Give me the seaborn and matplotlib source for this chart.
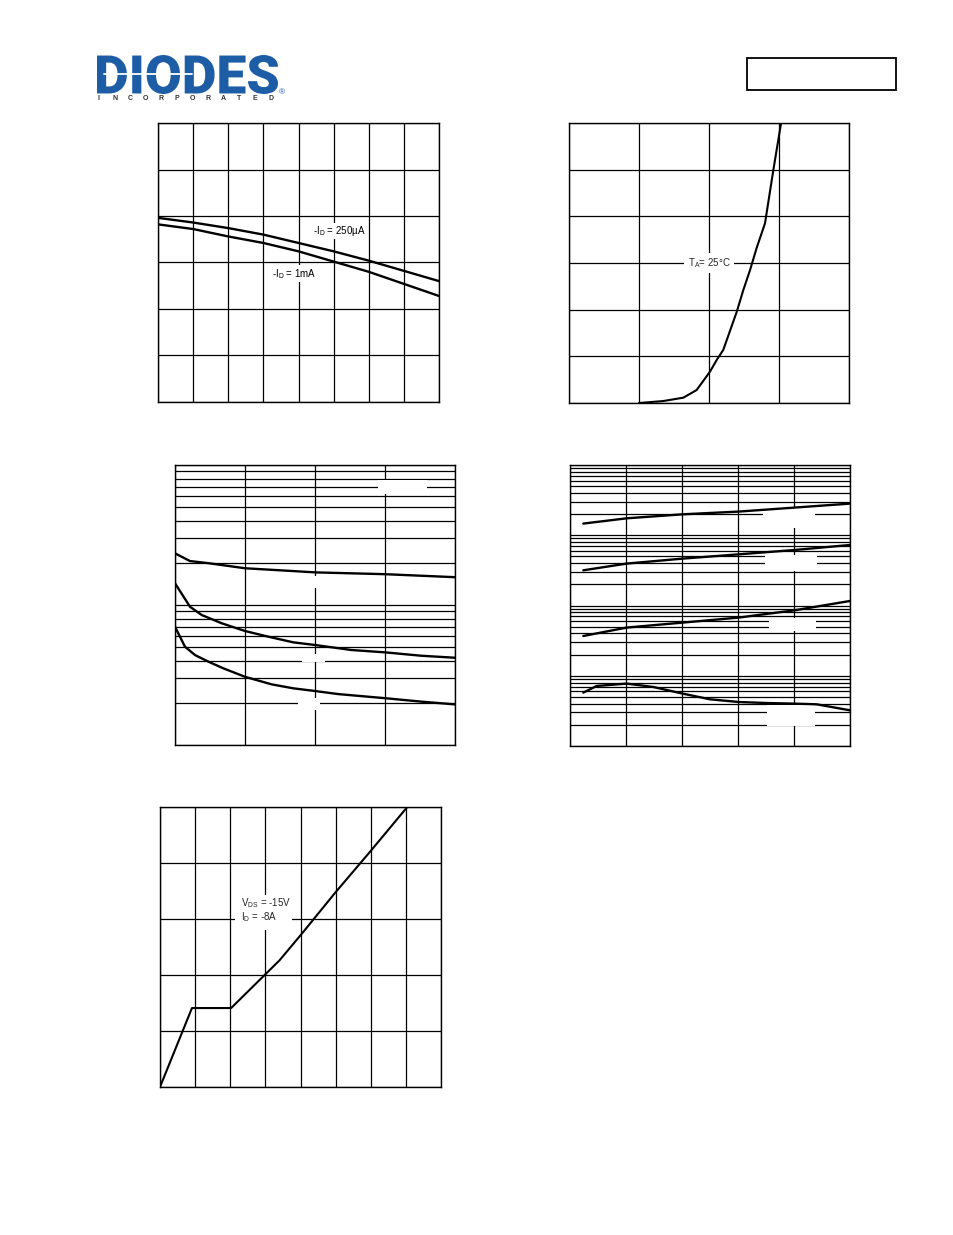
import numpy as np
import pandas as pd
import matplotlib
matplotlib.use("Agg")
import matplotlib.pyplot as plt
import seaborn as sns
from matplotlib.patches import Rectangle, PathPatch
from matplotlib.textpath import TextPath
from matplotlib.font_manager import FontProperties
from matplotlib.transforms import Affine2D

# ---------------- data ----------------
# Chart 1: threshold voltage vs temperature
temp_c = [-50, -25, 0, 25, 50, 75, 100, 125, 150]
vth_250ua = [1.98, 1.93, 1.87, 1.80, 1.71, 1.62, 1.52, 1.41, 1.30]
vth_1ma = [1.91, 1.86, 1.78, 1.71, 1.62, 1.51, 1.40, 1.27, 1.14]

# Chart 2: reverse drain current vs source-drain voltage
vsd = [0.30, 0.404, 0.490, 0.547, 0.604, 0.633, 0.661, 0.719, 0.747, 0.776,
       0.804, 0.840, 0.876, 0.909]
isd = [0.0, 0.21, 0.57, 1.39, 3.35, 4.61, 5.68, 9.78, 12.1, 14.25,
       16.6, 19.25, 25.0, 30.0]

# Chart 3: capacitance vs drain-source voltage (log)
vds_ciss = [0, 1.07, 2.38, 5, 8.33, 10, 15, 20]
ciss = [2340, 2060, 1990, 1830, 1750, 1710, 1660, 1580]
vds_coss = [0, 1.07, 1.91, 3.34, 5, 6.66, 8.45, 10, 12.6, 15, 17.6, 20]
coss = [1430, 972, 848, 740, 652, 594, 541, 518, 477, 459, 434, 420]
vds_crss = [0, 0.71, 1.43, 2.38, 3.45, 5, 6.91, 8.45, 10, 11.66, 15, 17.6, 20]
crss = [700, 504, 439, 394, 353, 307, 271, 254, 243, 231, 216, 204, 195]

# Chart 4: four log curves
x4 = [1.19, 5.06, 10.06, 15.06, 20.06, 25]
curve_a = [1466, 1742, 1987, 2172, 2477, 2820]
curve_b = [317, 395, 465, 535, 617, 727]
curve_c = [36.8, 48.5, 57.1, 67.3, 85.5, 116]
x4d = [1.19, 2.38, 5.06, 7.44, 10.06, 12.5, 15.06, 17.56, 20.06, 22.03, 25]
curve_d = [5.75, 7.15, 7.73, 6.92, 5.57, 4.62, 4.23, 4.09, 4.01, 3.92, 3.22]

# Chart 5: gate charge
qg = [0, 1.82, 4.05, 6.80, 8.03, 9.99, 11.97, 14.08]
vgs = [0, 2.82, 2.82, 4.52, 5.44, 6.95, 8.41, 10.0]

# ---------------- figure ----------------
sns.set_style("white")
plt.rcParams['font.family'] = ['Liberation Sans', 'DejaVu Sans']

W, H = 954, 1235
fig = plt.figure(figsize=(W / 100, H / 100), dpi=100)
fig.patch.set_facecolor('white')


def add_ax(box):
    x0, y0, x1, y1 = box
    return fig.add_axes([x0 / W, 1 - y1 / H, (x1 - x0) / W, (y1 - y0) / H])


def style(ax):
    ax.tick_params(which='both', length=0, labelbottom=False, labelleft=False)
    for s in ax.spines.values():
        s.set_visible(True)
        s.set_color('black')
        s.set_linewidth(1.0)
    ax.set_axisbelow(True)
    ax.grid(True, which='both', color='black', lw=0.9)
    ax.set_xlabel('')
    ax.set_ylabel('')


def gap(ax, box, cx, cy, w, h):
    x0, y0, x1, y1 = box
    fx = (cx - w / 2 - x0) / (x1 - x0)
    fy = (y1 - (cy + h / 2)) / (y1 - y0)
    ax.add_patch(Rectangle((fx, fy), w / (x1 - x0), h / (y1 - y0),
                           transform=ax.transAxes, facecolor='white',
                           edgecolor='none', zorder=1.5))


LW = 1.7
lab = dict(fontsize=7, color='black', zorder=3,
           bbox=dict(facecolor='white', edgecolor='none', pad=1.0))

# ---- Chart 1 ----
b1 = (158, 123, 439, 402)
ax1 = add_ax(b1)
sns.lineplot(x=temp_c, y=vth_250ua, ax=ax1, color='black', lw=LW)
sns.lineplot(x=temp_c, y=vth_1ma, ax=ax1, color='black', lw=LW)
ax1.set_xlim(-50, 150)
ax1.set_ylim(0, 3)
ax1.set_xticks(np.arange(-50, 151, 25))
ax1.set_yticks(np.arange(0, 3.01, 0.5))
style(ax1)
ax1.text(60, 1.84, "-I$_\\mathregular{D}$ = 250µA", ha='left', va='center', **lab)
ax1.text(31, 1.38, "-I$_\\mathregular{D}$ = 1mA", ha='left', va='center', **lab)

# ---- Chart 2 ----
b2 = (569, 123, 849, 403)
ax2 = add_ax(b2)
sns.lineplot(x=vsd, y=isd, ax=ax2, color='black', lw=1.5, sort=False)
ax2.set_xlim(0, 1.2)
ax2.set_ylim(0, 30)
ax2.set_xticks(np.arange(0, 1.21, 0.3))
ax2.set_yticks(np.arange(0, 30.1, 5))
style(ax2)
ax2.text(0.6, 15.0, "T$_\\mathregular{A}$= 25°C", ha='center', va='center',
         fontsize=7, zorder=3,
         bbox=dict(facecolor='white', edgecolor='none', pad=2.5))

# ---- Chart 3 ----
b3 = (175, 465, 455, 745)
ax3 = add_ax(b3)
sns.lineplot(x=vds_ciss, y=ciss, ax=ax3, color='black', lw=LW)
sns.lineplot(x=vds_coss, y=coss, ax=ax3, color='black', lw=LW)
sns.lineplot(x=vds_crss, y=crss, ax=ax3, color='black', lw=LW)
ax3.set_yscale('log')
ax3.set_xlim(0, 20)
ax3.set_ylim(100, 10000)
ax3.set_xticks(np.arange(0, 20.1, 5))
style(ax3)
gap(ax3, b3, 402, 487, 49, 14)
gap(ax3, b3, 315, 582, 26, 12)
gap(ax3, b3, 313, 658, 23, 8)
gap(ax3, b3, 309, 704, 22, 12)

# ---- Chart 4 ----
b4 = (570, 465, 850, 746)
ax4 = add_ax(b4)
for yv in (curve_a, curve_b, curve_c):
    sns.lineplot(x=x4, y=yv, ax=ax4, color='black', lw=LW)
sns.lineplot(x=x4d, y=curve_d, ax=ax4, color='black', lw=LW)
ax4.set_yscale('log')
ax4.set_xlim(0, 25)
ax4.set_ylim(1, 10000)
ax4.set_xticks(np.arange(0, 25.1, 5))
style(ax4)
gap(ax4, b4, 789, 518, 52, 20)
gap(ax4, b4, 791, 563, 52, 16)
gap(ax4, b4, 793, 624, 47, 13)
gap(ax4, b4, 791, 715, 48, 21)

# ---- Chart 5 ----
b5 = (160, 807, 441, 1087)
ax5 = add_ax(b5)
sns.lineplot(x=qg, y=vgs, ax=ax5, color='black', lw=1.5, sort=False)
ax5.set_xlim(0, 16)
ax5.set_ylim(0, 10)
ax5.set_xticks(np.arange(0, 16.1, 2))
ax5.set_yticks(np.arange(0, 10.1, 2))
style(ax5)
gap(ax5, b5, 263.5, 912.5, 57, 35)
ax5.text(4.61, 6.32, "V$_\\mathregular{DS}$ = -15V\nI$_\\mathregular{D}$ = -8A",
         ha='left', va='center', fontsize=7, linespacing=1.0, zorder=3)

# ---- Header: logo ----
logo_blue = '#1c5da6'
tp = TextPath((0, 0), "DIODES", prop=FontProperties(family='Roboto', weight='black'))
ext = tp.get_extents()
lx0, ly0, lx1, ly1 = 97, 55, 278, 94
sx = (lx1 - lx0) / ext.width
sy = (ly1 - ly0) / ext.height
tr = (Affine2D().translate(-ext.x0, -ext.y0).scale(sx, sy)
      .translate(lx0, H - ly1).scale(1 / W, 1 / H) + fig.transFigure)
fig.patches.append(PathPatch(tp, transform=tr, facecolor=logo_blue,
                             edgecolor='none', figure=fig))
fig.lines.append(plt.Line2D([104 / W, 192 / W], [1 - 74 / H, 1 - 74 / H],
                            transform=fig.transFigure, color='white', lw=1.3,
                            figure=fig))
letters = "INCORPORATED"
for i, ch in enumerate(letters):
    fig.text((99 + i * 15.6) / W, 1 - 98 / H, ch, fontsize=5, fontweight='bold',
             color='#333333', ha='center', va='center')
fig.text(282 / W, 1 - 93 / H, "®", fontsize=6, color=logo_blue,
         ha='center', va='center')

fig.patches.append(Rectangle((747 / W, 1 - 90 / H), 149 / W, 32 / H,
                             transform=fig.transFigure, facecolor='none',
                             edgecolor='black', lw=1.3, figure=fig))

fig.savefig("out.png", dpi=100, facecolor='white')
